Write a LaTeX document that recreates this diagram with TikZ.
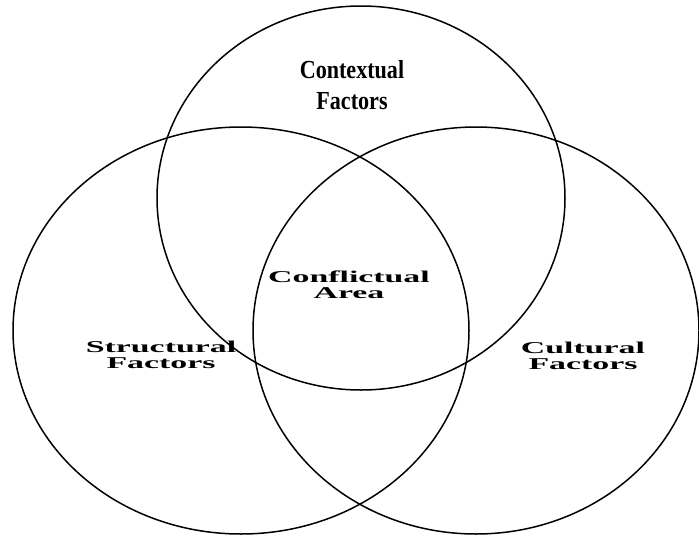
\documentclass[tikz,border=0pt]{standalone}
\usepackage{fontspec}
\setmainfont{Liberation Serif}
\newcommand{\widetxt}[1]{\scalebox{2.05}[1]{#1}}
\newcommand{\narrowtxt}[1]{\scalebox{0.85}[1]{#1}}
\tikzset{
  venn/.style={draw=black, line width=1.5pt},
  widelabel/.style={align=center, inner sep=0pt, font=\fontsize{16.5}{16}\selectfont\bfseries},
  toplabel/.style={align=center, inner sep=0pt, font=\fontsize{26}{31}\selectfont\bfseries}
}
\begin{document}
\begin{tikzpicture}[x=1pt,y=-1pt]
  \useasboundingbox (0,0) rectangle (699,536);
  \draw[venn] (361,198) ellipse [x radius=204, y radius=192];
  \draw[venn] (241,330.5) ellipse [x radius=228, y radius=203.5];
  \draw[venn] (476,330.5) ellipse [x radius=223, y radius=203.5];
  \node[toplabel] (context) at (352,85) {\narrowtxt{Contextual}\\\narrowtxt{Factors}};
  \node[widelabel] (conflict) at (349,285) {\widetxt{Conflictual}\\\widetxt{Area}};
  \node[widelabel] (struct) at (161,355) {\widetxt{Structural}\\\widetxt{Factors}};
  \node[widelabel] (cult) at (583,356) {\widetxt{Cultural}\\\widetxt{Factors}};
\end{tikzpicture}
\end{document}
